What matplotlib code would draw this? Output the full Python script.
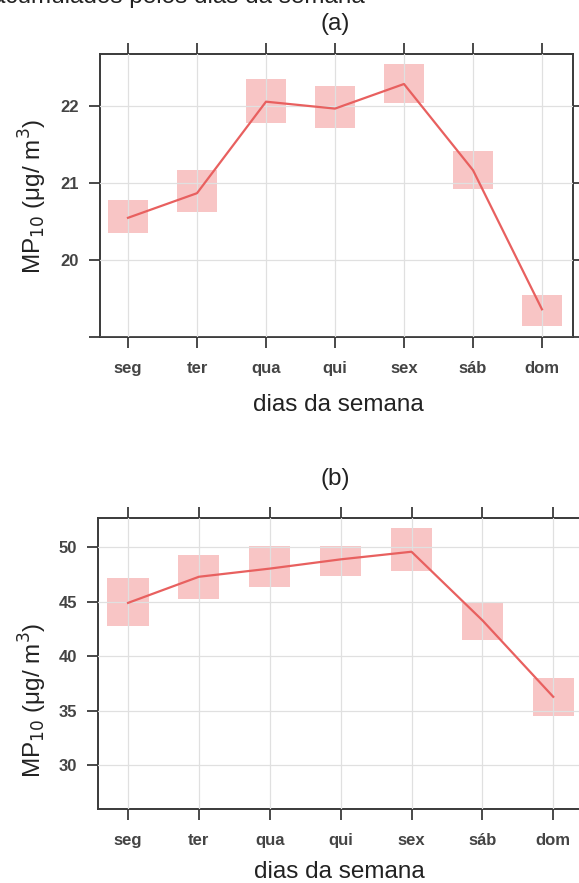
import matplotlib
matplotlib.use("Agg")
import matplotlib.pyplot as plt

plt.rcParams['font.family'] = ['Liberation Sans', 'DejaVu Sans']

dias = ['seg', 'ter', 'qua', 'qui', 'sex', 'sáb', 'dom']

# painel (a)
mp_a = [20.55, 20.87, 22.06, 21.97, 22.29, 21.17, 19.36]
lo_a = [20.35, 20.63, 21.78, 21.72, 22.04, 20.92, 19.14]
hi_a = [20.78, 21.17, 22.35, 22.26, 22.55, 21.42, 19.55]
yticks_a = [19, 20, 21, 22]
ylabels_a = ['', '20', '21', '22']

# painel (b)
mp_b = [44.9, 47.3, 48.05, 48.9, 49.6, 43.3, 36.27]
lo_b = [42.8, 45.3, 46.4, 47.4, 47.85, 41.5, 34.5]
hi_b = [47.2, 49.3, 50.1, 50.1, 51.8, 45.0, 38.0]
yticks_b = [30, 35, 40, 45, 50]
ylabels_b = ['30', '35', '40', '45', '50']

W, H = 579, 883
fig = plt.figure(figsize=(W / 100, H / 100), dpi=100)

linha = '#E8605F'
caixa = '#F08080'
cinza = '#3a3a3a'


def painel(rect, media, lo, hi, yticks, ylabels, xlim, ylim):
    ax = fig.add_axes(rect)
    x = list(range(1, len(dias) + 1))
    alt = [h - l for h, l in zip(hi, lo)]
    ax.bar(x, alt, bottom=lo, width=0.58, color=caixa, alpha=0.45,
           linewidth=0, zorder=1)
    ax.plot(x, media, color=linha, lw=1.6, zorder=3)
    ax.set_xlim(*xlim)
    ax.set_ylim(*ylim)
    ax.set_xticks(x)
    ax.set_xticklabels(dias)
    ax.set_yticks(yticks)
    ax.set_yticklabels(ylabels)
    ax.grid(True, color='#e0e0e0', lw=0.9, zorder=2)
    ax.set_axisbelow(False)
    for s in ax.spines.values():
        s.set_color(cinza)
        s.set_linewidth(1.4)
    ax.tick_params(axis='both', direction='out', length=8, width=1.3,
                   color=cinza, top=True, right=True,
                   labelcolor='#444444', labelsize=12)
    ax.tick_params(axis='x', pad=9)
    ax.tick_params(axis='y', pad=7)
    for t in ax.get_xticklabels() + ax.get_yticklabels():
        t.set_fontweight('bold')
    return ax


def px(x0, y0, x1, y1):
    return [x0 / W, 1 - y1 / H, (x1 - x0) / W, (y1 - y0) / H]


painel(px(100, 54, 573, 337), mp_a, lo_a, hi_a, yticks_a, ylabels_a,
       (0.594, 7.45), (19.0, 22.68))
painel(px(98, 518, 583, 809), mp_b, lo_b, hi_b, yticks_b, ylabels_b,
       (0.576, 7.42), (25.96, 52.7))

rotulo_y = r'MP$_{10}$ (μg/ m$^{3}$)'
fs = 17.5
cor = '#222222'
fig.text(335 / W, 1 - 24 / H, '(a)', ha='center', va='center', fontsize=fs, color=cor)
fig.text(335 / W, 1 - 479 / H, '(b)', ha='center', va='center', fontsize=fs, color=cor)
fig.text(338 / W, 1 - 411 / H, 'dias da semana', ha='center', va='baseline', fontsize=fs, color=cor)
fig.text(339 / W, 1 - 878 / H, 'dias da semana', ha='center', va='baseline', fontsize=fs, color=cor)
fig.text(33 / W, 1 - 196 / H, rotulo_y, ha='center', va='center', rotation=90, fontsize=fs, color=cor)
fig.text(33 / W, 1 - 700 / H, rotulo_y, ha='center', va='center', rotation=90, fontsize=fs, color=cor)

# legenda da figura cortada no topo
fig.text(365 / W, 1 - 3 / H, 'acumulados pelos dias da semana', ha='right', va='baseline',
         fontsize=fs, color=cor)

fig.savefig('out.png', dpi=100)
